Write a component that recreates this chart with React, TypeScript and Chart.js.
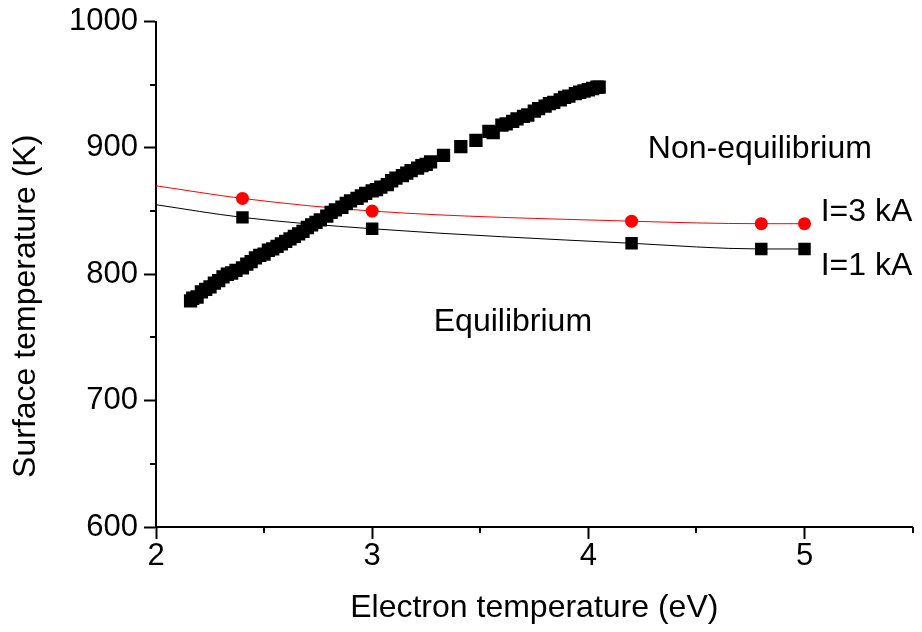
import React, { useEffect, useRef } from "react";
import { Chart, registerables } from "chart.js";

Chart.register(...registerables);

// Dense equilibrium-boundary data (black squares)
const denseX = [
  2.16, 2.17, 2.19, 2.21, 2.23, 2.25, 2.27, 2.29, 2.31, 2.33, 2.35, 2.37, 2.40, 2.42,
  2.44, 2.46, 2.48, 2.50, 2.52, 2.54, 2.56, 2.58, 2.60, 2.62, 2.64, 2.66, 2.68, 2.70,
  2.72, 2.74, 2.76, 2.79, 2.81, 2.83, 2.86, 2.88, 2.90, 2.93, 2.95, 2.97, 3.00, 3.02,
  3.04, 3.07, 3.09, 3.11, 3.14, 3.16, 3.18, 3.21, 3.23, 3.25, 3.27,
  3.33, 3.41, 3.48, 3.54, 3.56,
  3.60, 3.62, 3.65, 3.67, 3.70, 3.72, 3.75, 3.77, 3.80, 3.82, 3.84, 3.87, 3.89, 3.91,
  3.94, 3.96, 3.98, 4.00, 4.02, 4.04, 4.05,
];
const denseY = [
  779, 781, 782, 786, 788, 790, 793, 795, 798, 800, 801, 803, 805, 808,
  810, 813, 815, 816, 819, 820, 822, 824, 826, 828, 830, 832, 834, 837,
  839, 841, 843, 846, 849, 851, 853, 856, 858, 860, 862, 864, 866, 867,
  869, 871, 874, 876, 878, 880, 882, 884, 886, 887, 889,
  894, 901, 906, 913, 912,
  918, 919, 921, 923, 925, 926, 929, 931, 933, 935, 936, 938, 940, 941,
  943, 944, 945, 946, 947, 948, 948,
];

// I = 3 kA (red circles) and its fitted curve
const i3X = [2.4, 3.0, 4.2, 4.8, 5.0];
const i3Y = [860, 850, 842, 840, 840];
const i3FitX = [2.0, 2.4, 3.0, 4.2, 4.8, 5.0];
const i3FitY = [870, 860, 850, 842, 840, 840];

// I = 1 kA (black squares) and its fitted curve
const i1X = [2.4, 3.0, 4.2, 4.8, 5.0];
const i1Y = [845, 836, 824.5, 820, 820];
const i1FitX = [2.0, 2.4, 3.0, 4.2, 4.8, 5.0];
const i1FitY = [855, 845, 836, 824.5, 820, 820];

// Axis ticks
const xMin = 2;
const xMax = 5.5;
const xStep = 1;
const xMinorTicks = [2.5, 3.5, 4.5, 5.5];
const yMin = 600;
const yMax = 1000;
const yStep = 100;
const yMinorTicks = [650, 750, 850, 950];

// Titles
const xTitle = "Electron temperature (eV)";
const yTitle = "Surface temperature (K)";

// Text labels in data coordinates
const labelTexts = ["Non-equilibrium", "Equilibrium", "I=3 kA", "I=1 kA"];
const labelX = [4.275, 3.285, 5.075, 5.075];
const labelY = [899, 762, 849, 806];

const FONT = "'Liberation Sans', Arial, Helvetica, sans-serif";

const pts = (xs: number[], ys: number[]) => xs.map((x, i) => ({ x, y: ys[i] }));

const extrasPlugin = {
  id: "extras",
  afterDraw(chart: any) {
    const { ctx, chartArea, scales } = chart;
    const xs = scales.x;
    const ys = scales.y;
    ctx.save();
    ctx.strokeStyle = "#000";
    ctx.lineWidth = 2;
    ctx.beginPath();
    xMinorTicks.forEach((v) => {
      const px = Math.round(xs.getPixelForValue(v));
      ctx.moveTo(px, chartArea.bottom);
      ctx.lineTo(px, chartArea.bottom + 6);
    });
    yMinorTicks.forEach((v) => {
      const py = Math.round(ys.getPixelForValue(v));
      ctx.moveTo(chartArea.left, py);
      ctx.lineTo(chartArea.left - 6, py);
    });
    ctx.stroke();
    ctx.fillStyle = "#000";
    ctx.font = `32px ${FONT}`;
    ctx.textAlign = "left";
    ctx.textBaseline = "middle";
    labelTexts.forEach((t, i) => {
      ctx.fillText(t, xs.getPixelForValue(labelX[i]), ys.getPixelForValue(labelY[i]));
    });
    // y-axis title (centred a little below the axis middle, as in the original)
    ctx.translate(26, (chartArea.top + chartArea.bottom) / 2 + 32);
    ctx.rotate(-Math.PI / 2);
    ctx.textAlign = "center";
    ctx.fillText(yTitle, 0, 0);
    ctx.restore();
  },
};

export default function App() {
  const ref = useRef<HTMLCanvasElement>(null);
  useEffect(() => {
    if (!ref.current) return;
    const chart = new Chart(ref.current, {
      type: "scatter",
      data: {
        datasets: [
          {
            label: "Boundary",
            data: pts(denseX, denseY),
            showLine: false,
            pointStyle: "rect",
            pointRadius: 9.4,
            backgroundColor: "#000",
            borderColor: "#000",
            borderWidth: 0,
          },
          {
            label: "I=3 kA",
            data: pts(i3X, i3Y),
            showLine: false,
            pointStyle: "circle",
            pointRadius: 6.5,
            backgroundColor: "#ff0000",
            borderColor: "#ff0000",
            borderWidth: 0,
          },
          {
            label: "I=1 kA",
            data: pts(i1X, i1Y),
            showLine: false,
            pointStyle: "rect",
            pointRadius: 8.8,
            backgroundColor: "#000",
            borderColor: "#000",
            borderWidth: 0,
          },
          {
            label: "I=3 kA fit",
            data: pts(i3FitX, i3FitY),
            showLine: true,
            pointRadius: 0,
            borderColor: "#ff0000",
            borderWidth: 1,
            cubicInterpolationMode: "monotone",
          },
          {
            label: "I=1 kA fit",
            data: pts(i1FitX, i1FitY),
            showLine: true,
            pointRadius: 0,
            borderColor: "#000",
            borderWidth: 1,
            cubicInterpolationMode: "monotone",
          },
        ],
      },
      options: {
        animation: false,
        responsive: false,
        maintainAspectRatio: false,
        layout: { padding: { top: 18, right: 1, left: 0, bottom: 0 } },
        plugins: {
          legend: { display: false },
          tooltip: { enabled: false },
        },
        scales: {
          x: {
            type: "linear",
            min: xMin,
            max: xMax,
            afterFit(scale: any) {
              scale.height = 105;
            },
            border: { display: true, color: "#000", width: 2 },
            grid: {
              drawOnChartArea: false,
              drawTicks: true,
              tickLength: 12,
              tickWidth: 2,
              tickColor: "#000",
            },
            ticks: {
              stepSize: xStep,
              includeBounds: false,
              color: "#000",
              padding: 2,
              font: { family: FONT, size: 31, lineHeight: 1 },
              maxRotation: 0,
              callback: (v: any) => String(v),
            },
            title: {
              display: true,
              text: xTitle,
              color: "#000",
              font: { family: FONT, size: 32, lineHeight: 1.2 },
              padding: { top: 0, bottom: 5 },
            },
          },
          y: {
            type: "linear",
            min: yMin,
            max: yMax,
            afterFit(scale: any) {
              scale.width = 156;
            },
            border: { display: true, color: "#000", width: 2 },
            grid: {
              drawOnChartArea: false,
              drawTicks: true,
              tickLength: 12,
              tickWidth: 2,
              tickColor: "#000",
            },
            ticks: {
              stepSize: yStep,
              includeBounds: false,
              color: "#000",
              padding: 6,
              font: { family: FONT, size: 31, lineHeight: 1 },
              callback: (v: any) => String(v),
            },
            title: { display: false },
          },
        },
      },
      plugins: [extrasPlugin],
    } as any);
    return () => chart.destroy();
  }, []);
  return (
    <div style={{ position: "fixed", left: 0, top: 0, width: 922, height: 632, background: "#fff" }}>
      <canvas ref={ref} width={922} height={632} />
    </div>
  );
}
